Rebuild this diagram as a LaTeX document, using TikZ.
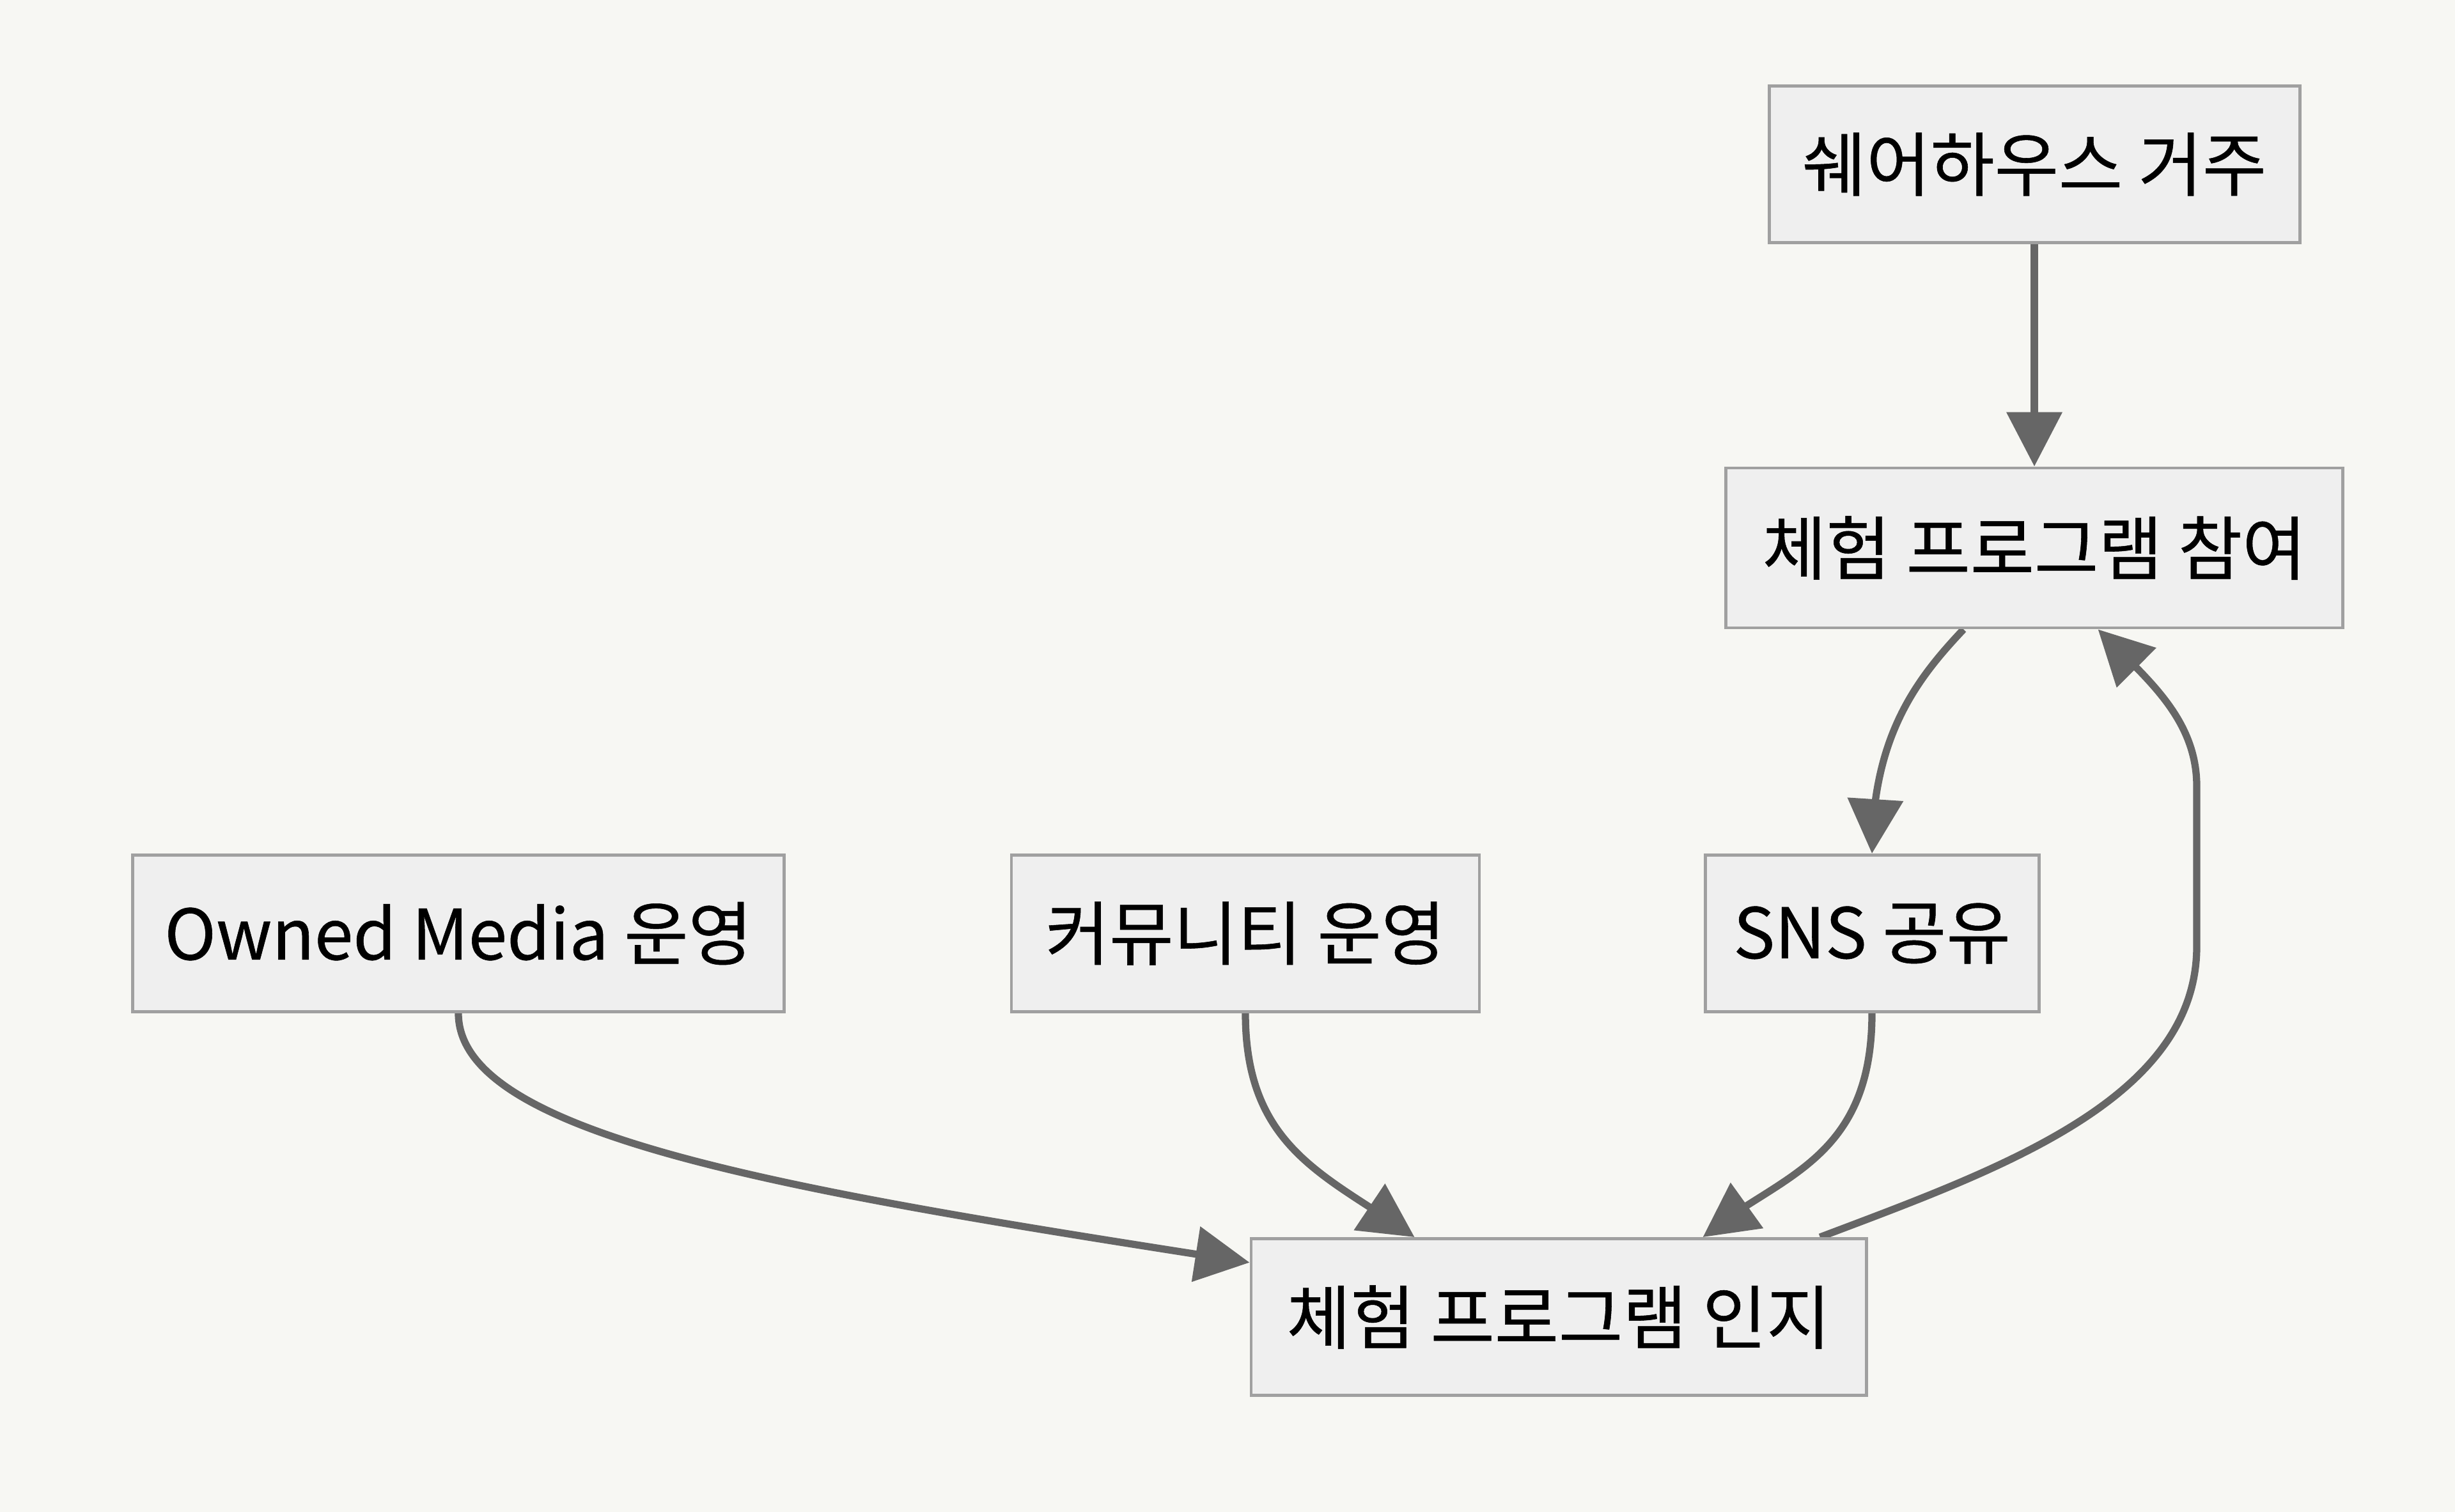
\documentclass[tikz,border=0pt]{standalone}
\usepackage{fontspec}
\setmainfont{Noto Sans CJK KR}[FakeBold=0.5]
\usetikzlibrary{arrows.meta,bending}
\definecolor{paper}{HTML}{F7F7F3}
\definecolor{boxfill}{HTML}{EFEFEF}
\definecolor{boxline}{HTML}{A0A0A0}
\definecolor{edgeline}{HTML}{666666}
\pgfdeclarelayer{bg}
\pgfsetlayers{bg,main}
\begin{document}
\begin{tikzpicture}[
  stepbox/.style={draw=boxline, fill=boxfill, line width=1.4pt, inner sep=0pt,
    minimum height=2.45cm, font=\fontsize{31}{37}\selectfont},
  flow/.style={draw=edgeline, line width=3.2pt,
    -{Triangle[length=0.85cm,width=0.85cm]}}
]
\node[stepbox, minimum width=8.30cm] (house) at (31.82,-2.57) {쉐어하우스 거주};
\node[stepbox, minimum width=9.65cm, minimum height=2.50cm] (join) at (31.82,-8.57) {체험 프로그램 참여};
\node[stepbox, minimum width=10.19cm] (owned) at (7.17,-14.60) {Owned Media 운영};
\node[stepbox, minimum width=7.32cm] (comm) at (19.48,-14.60) {커뮤니티 운영};
\node[stepbox, minimum width=5.22cm] (sns) at (29.28,-14.60) {SNS 공유};
\node[stepbox, minimum width=9.62cm] (aware) at (24.38,-20.60) {체험 프로그램 인지};
\begin{pgfonlayer}{bg}
\fill[paper] (0,0) rectangle (38.4,-23.65);
\draw[flow] (house) -- (join);
\draw[flow] (join.-131) .. controls (30.0,-10.6) and (29.28,-11.5) .. (sns.north);
\draw[flow] (owned.south) .. controls (7.17,-17.8) and (12.5,-18.65) .. (aware.170);
\draw[flow] (comm.south) .. controls (19.48,-18.0) and (20.8,-18.4) .. (aware.151);
\draw[flow] (sns.south) .. controls (29.28,-18.2) and (27.75,-18.4) .. (aware.29.5);
\draw[flow] (aware.17) .. controls (31.27,-18.29) and (34.36,-17.2) .. (34.36,-14.8)
  -- (34.36,-12.3) .. controls (34.36,-11.2) and (33.51,-10.56) .. (join.-52);
\end{pgfonlayer}
\end{tikzpicture}
\end{document}
